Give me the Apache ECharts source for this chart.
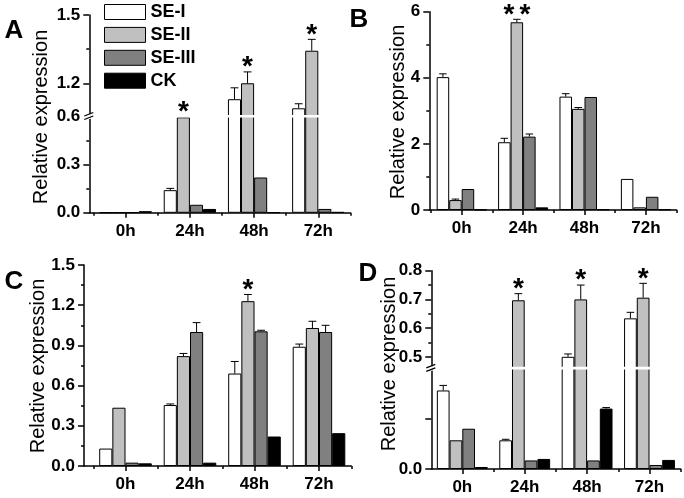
<!DOCTYPE html>
<html><head><meta charset="utf-8">
<script src="https://cdn.jsdelivr.net/npm/echarts@6/dist/echarts.min.js"></script>
<style>html,body{margin:0;padding:0;background:#fff}#c{width:684px;height:498px}</style>
</head><body><div id="c"></div>
<script>
// ---------- DATA ----------
const categories = ['0h', '24h', '48h', '72h'];
const seriesNames = ['SE-I', 'SE-II', 'SE-III', 'CK'];

// Panel A
const A_SE1 = [0.002, 0.141, 1.13, 1.09];
const A_SE2 = [0.002, 0.595, 1.20, 1.343];
const A_SE3 = [0.003, 0.05, 0.22, 0.024];
const A_CK  = [0.01, 0.024, 0.003, 0.005];
const A_SE1_err = [0, 0.011, 0.05, 0.02];
const A_SE2_err = [0, 0.003, 0.05, 0.05];
const A_SE3_err = [0, 0.004, 0.004, 0.003];
const A_CK_err  = [0.001, 0.002, 0, 0];
const A_stars   = [0, 1, 1, 1];   // on SE-II

// Panel B
const B_SE1 = [4.02, 2.05, 3.43, 0.94];
const B_SE2 = [0.30, 5.68, 3.06, 0.08];
const B_SE3 = [0.635, 2.22, 3.42, 0.40];
const B_CK  = [0.01, 0.08, 0.02, 0.02];
const B_SE1_err = [0.10, 0.12, 0.09, 0.02];
const B_SE2_err = [0.03, 0.09, 0.04, 0.02];
const B_SE3_err = [0.01, 0.08, 0.02, 0.02];
const B_CK_err  = [0, 0.01, 0, 0];
const B_stars   = [0, 2, 0, 0];

// Panel C
const C_SE1 = [0.13, 0.455, 0.69, 0.89];
const C_SE2 = [0.435, 0.82, 1.23, 1.03];
const C_SE3 = [0.025, 1.0, 1.005, 1.0];
const C_CK  = [0.02, 0.025, 0.22, 0.245];
const C_SE1_err = [0.005, 0.008, 0.09, 0.02];
const C_SE2_err = [0.003, 0.02, 0.05, 0.05];
const C_SE3_err = [0.003, 0.07, 0.008, 0.05];
const C_CK_err  = [0.002, 0.002, 0.002, 0.002];
const C_stars   = [0, 0, 1, 0];

// Panel D
const D_SE1 = [0.156, 0.057, 0.50, 0.634];
const D_SE2 = [0.057, 0.697, 0.70, 0.706];
const D_SE3 = [0.08, 0.017, 0.017, 0.008];
const D_CK  = [0.004, 0.02, 0.12, 0.018];
const D_SE1_err = [0.01, 0.002, 0.01, 0.021];
const D_SE2_err = [0.001, 0.023, 0.05, 0.05];
const D_SE3_err = [0.001, 0.001, 0.001, 0.001];
const D_CK_err  = [0.001, 0.001, 0.002, 0.001];
const D_stars   = [0, 1, 1, 1];

// Axis ticks / labels
const A_upperLabels = [1.2, 1.5], A_upperMinor = [1.35];
const A_lowerLabels = [0, 0.3, 0.6], A_lowerTicks = [0, 0.3], A_lowerMinor = [0.15, 0.45];
const B_labels = [0, 2, 4, 6], B_minor = [1, 3, 5];
const C_labels = [0, 0.3, 0.6, 0.9, 1.2, 1.5], C_minor = [0.15, 0.45, 0.75, 1.05, 1.35];
const D_upperLabels = [0.5, 0.6, 0.7, 0.8], D_upperMinor = [0.55, 0.65, 0.75];
const D_lowerLabels = [0], D_lowerTicks = [0, 0.1];

// ---------- STYLE / LAYOUT ----------
const FONT = 'Liberation Sans';
const colors = ['#ffffff', '#c0c0c0', '#808080', '#000000'];
const BCG = 0.185;
const AXW = 1.5;

const panels = [
  {letter: 'A', letterPos: [14, 31], titlePos: [41, 117], axisX: 89.3, c0: 125.7, step: 64.2, dec: 1,
   values: [A_SE1, A_SE2, A_SE3, A_CK], errors: [A_SE1_err, A_SE2_err, A_SE3_err, A_CK_err], stars: A_stars,
   segs: [
     {top: 15, bottom: 116.5, min: 1.054, max: 1.5, labels: A_upperLabels, ticks: A_upperLabels, minor: A_upperMinor},
     {top: 116.5, bottom: 212.8, min: 0, max: 0.6, labels: A_lowerLabels, ticks: A_lowerTicks, minor: A_lowerMinor}]},
  {letter: 'B', letterPos: [359, 20], titlePos: [398, 112], axisX: 429.3, c0: 461.7, step: 61.4, dec: 0,
   values: [B_SE1, B_SE2, B_SE3, B_CK], errors: [B_SE1_err, B_SE2_err, B_SE3_err, B_CK_err], stars: B_stars,
   segs: [{top: 11.7, bottom: 210, min: 0, max: 6, labels: B_labels, ticks: B_labels, minor: B_minor}]},
  {letter: 'C', letterPos: [14, 282], titlePos: [38.5, 366], axisX: 84, c0: 125.5, step: 64.5, dec: 1,
   values: [C_SE1, C_SE2, C_SE3, C_CK], errors: [C_SE1_err, C_SE2_err, C_SE3_err, C_CK_err], stars: C_stars,
   segs: [{top: 265, bottom: 466, min: 0, max: 1.5, labels: C_labels, ticks: C_labels, minor: C_minor}]},
  {letter: 'D', letterPos: [368, 274], titlePos: [389, 364], axisX: 431.3, c0: 462.3, step: 62.4, dec: 1,
   values: [D_SE1, D_SE2, D_SE3, D_CK], errors: [D_SE1_err, D_SE2_err, D_SE3_err, D_CK_err], stars: D_stars,
   segs: [
     {top: 270.7, bottom: 368.3, min: 0.46, max: 0.8, labels: D_upperLabels, ticks: D_upperLabels, minor: D_upperMinor},
     {top: 368.3, bottom: 469, min: 0, max: 0.2, labels: D_lowerLabels, ticks: D_lowerTicks, minor: []}]}
];

const grid = [], xAxis = [], yAxis = [], series = [], graphic = [];
let gi = 0;

panels.forEach(p => {
  const xmin = (p.axisX - p.c0) / p.step, xmax = 3.5;
  const width = (xmax - xmin) * p.step;
  const nseg = p.segs.length;
  p.segs.forEach((sg, si) => {
    const isLast = si === nseg - 1;
    const isUpper = nseg > 1 && si === 0;
    grid.push({left: p.axisX, top: sg.top, width: width, height: sg.bottom - sg.top,
               containLabel: false, outerBoundsMode: 'none'});
    // x axes: main + minor helper
    xAxis.push({type: 'value', gridIndex: gi, min: xmin, max: xmax, show: isLast, position: 'bottom',
      axisLine: {show: true, onZero: false, lineStyle: {color: '#000', width: AXW}},
      axisTick: {show: true, customValues: [0, 1, 2, 3], length: 5, lineStyle: {color: '#000', width: AXW}},
      axisLabel: {show: true, customValues: [0, 1, 2, 3], formatter: v => categories[Math.round(v)],
        margin: 10, color: '#000', fontSize: 17, fontWeight: 'bold', fontFamily: FONT},
      splitLine: {show: false}});
    xAxis.push({type: 'value', gridIndex: gi, min: xmin, max: xmax, show: isLast, position: 'bottom',
      axisLine: {show: false, onZero: false},
      axisTick: {show: true, customValues: [-0.5, 0.5, 1.5, 2.5, 3.5].filter(v => v > xmin), length: 3, lineStyle: {color: '#000', width: AXW}},
      axisLabel: {show: false}, splitLine: {show: false}});
    // y axes: main + minor helper
    yAxis.push({type: 'value', gridIndex: gi, min: sg.min, max: sg.max, position: 'left',
      axisLine: {show: true, onZero: false, lineStyle: {color: '#000', width: AXW}},
      axisTick: {show: true, customValues: sg.ticks, length: 6, lineStyle: {color: '#000', width: AXW}},
      axisLabel: {show: true, customValues: sg.labels, formatter: v => Number(v).toFixed(p.dec),
        margin: 9, color: '#000', fontSize: 17, fontWeight: 'bold', fontFamily: FONT},
      splitLine: {show: false}});
    yAxis.push({type: 'value', gridIndex: gi, min: sg.min, max: sg.max, position: 'left',
      show: sg.minor.length > 0,
      axisLine: {show: false, onZero: false},
      axisTick: {show: true, customValues: sg.minor, length: 3, lineStyle: {color: '#000', width: AXW}},
      axisLabel: {show: false}, splitLine: {show: false}});

    const xi = 2 * gi, yi = 2 * gi;
    // bars
    p.values.forEach((vals, s) => {
      series.push({type: 'bar', name: seriesNames[s], xAxisIndex: xi, yAxisIndex: yi,
        data: vals.map((v, k) => [k, (isUpper ? (v > sg.min ? v : null) : v)]),
        barGap: '0%', barCategoryGap: (BCG * 100) + '%', clip: true, silent: true,
        itemStyle: {color: colors[s], borderColor: '#000', borderWidth: 1},
        emphasis: {disabled: true}, animation: false, z: 2});
    });
    // error bars + stars, drawn in the segment that contains the bar top
    const items = [];
    p.values.forEach((vals, s) => {
      vals.forEach((v, k) => {
        let inSeg;
        if (nseg === 1) inSeg = true;
        else if (isUpper) inSeg = v > sg.min;
        else inSeg = v <= p.segs[0].min;
        if (!inSeg) return;
        const st = (s === 1) ? p.stars[k] : 0;
        items.push([k, s, v, p.errors[s][k], st]);
      });
    });
    series.push({type: 'custom', xAxisIndex: xi, yAxisIndex: yi, data: items,
      encode: {x: 0, y: 2}, silent: true, animation: false, z: 5, clip: false,
      renderItem: function (params, api) {
        const k = api.value(0), s = api.value(1), v = api.value(2), e = api.value(3), st = api.value(4);
        const band = api.size([1, 0])[0];
        const bw = band * (1 - BCG) / 4;
        const base = api.coord([k, v]);
        const x = base[0] + (s - 1.5) * bw;
        const y0 = base[1];
        const y1 = api.coord([k, v + e])[1];
        const cw = bw * 0.3;
        const children = [];
        if (e > 0 && Math.abs(y0 - y1) >= 0.8) {
          children.push({type: 'line', shape: {x1: x, y1: y0, x2: x, y2: y1}, style: {stroke: '#000', lineWidth: 1}});
          children.push({type: 'line', shape: {x1: x - cw, y1: y1, x2: x + cw, y2: y1}, style: {stroke: '#000', lineWidth: 1}});
        }
        const offs = st === 2 ? [-8, 8] : (st === 1 ? [0] : []);
        offs.forEach(o => {
          children.push({type: 'text', x: x + o, y: y1 - 4.5,
            style: {text: '*', fontSize: 28, fontWeight: 'bold', fontFamily: FONT, fill: '#000',
                    align: 'center', verticalAlign: 'middle'}});
        });
        return {type: 'group', children: children};
      }});

    // break decoration
    if (nseg > 1 && si === 1) {
      const by = sg.top;
      graphic.push({type: 'rect', z: 100, shape: {x: p.axisX + 1, y: by - 1.5, width: width, height: 2.6},
        style: {fill: '#fff'}, silent: true});
      graphic.push({type: 'rect', z: 101, shape: {x: p.axisX - 1.5, y: by - 2.5, width: 3, height: 5},
        style: {fill: '#fff'}, silent: true});
      graphic.push({type: 'line', z: 102, shape: {x1: p.axisX - 5, y1: by - 0.5, x2: p.axisX + 4, y2: by - 4},
        style: {stroke: '#000', lineWidth: 1.3}, silent: true});
      graphic.push({type: 'line', z: 102, shape: {x1: p.axisX - 5, y1: by + 3, x2: p.axisX + 4, y2: by - 0.5},
        style: {stroke: '#000', lineWidth: 1.3}, silent: true});
    }
    gi++;
  });
  graphic.push({type: 'text', z: 100, x: p.letterPos[0], y: p.letterPos[1],
    style: {text: p.letter, fontSize: 26, fontWeight: 'bold', fontFamily: FONT, fill: '#000',
            align: 'center', verticalAlign: 'middle'}});
  graphic.push({type: 'text', z: 100, x: p.titlePos[0], y: p.titlePos[1], rotation: Math.PI / 2,
    style: {text: 'Relative expression', fontSize: 20, fontFamily: FONT, fill: '#000',
            align: 'center', verticalAlign: 'middle'}});
});

const chart = echarts.init(document.getElementById('c'), null, {renderer: 'canvas', width: 684, height: 498});
chart.setOption({
  animation: false,
  backgroundColor: '#fff',
  grid, xAxis, yAxis, series, graphic,
  legend: {show: true, data: seriesNames, orient: 'vertical', left: 104, top: 3, padding: 0, icon: 'rect',
    itemWidth: 41, itemHeight: 15, itemGap: 4.9, selectedMode: false,
    itemStyle: {borderColor: '#000', borderWidth: 1},
    textStyle: {fontSize: 18, lineHeight: 15, fontWeight: 'bold', fontFamily: FONT, color: '#000'}},
  tooltip: {show: false}
});
</script></body></html>
